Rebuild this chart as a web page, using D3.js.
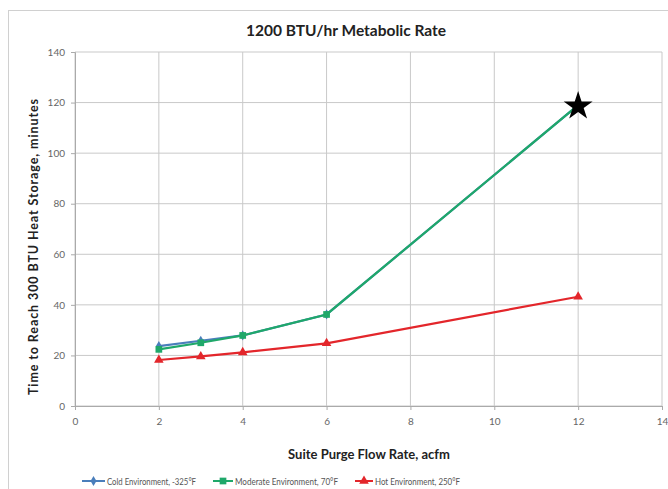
<!DOCTYPE html>
<html><head><meta charset="utf-8">
<script src="https://cdn.jsdelivr.net/npm/d3@7"></script>
<style>body{margin:0;background:#fff;} svg{display:block;font-family:Lato,"Open Sans",sans-serif;}</style>
</head><body>
<svg id="c" width="668" height="489"></svg>
<script>
const flowRates = [2, 3, 4, 6, 12];
const coldValues = [23.7, 25.8, 27.9, 36.2, 119];
const moderateValues = [22.4, 25.0, 27.9, 36.2, 119];
const hotValues = [18.2, 19.6, 21.2, 24.8, 43.2];
const xTicks = [0, 2, 4, 6, 8, 10, 12, 14];
const yTicks = [0, 20, 40, 60, 80, 100, 120, 140];
const starPoint = [12, 119];
const series = [
  {name: "Cold Environment, -325°F", values: coldValues, color: "#4a7ebb", sym: "diamond"},
  {name: "Moderate Environment, 70°F", values: moderateValues, color: "#1fa86a", sym: "square"},
  {name: "Hot Environment, 250°F", values: hotValues, color: "#e3262b", sym: "triangle"}
];

const svg = d3.select("#c");
svg.append("rect").attr("x", 8.5).attr("y", 10.5).attr("width", 680).attr("height", 490)
  .attr("fill", "#fff").attr("stroke", "#d0d0d0");

const x = d3.scaleLinear().domain([0, 14]).range([75, 662]);
const y = d3.scaleLinear().domain([0, 140]).range([406, 52]);

svg.append("g").selectAll("line").data(yTicks).join("line")
  .attr("x1", x(0)).attr("x2", x(14)).attr("y1", d => y(d)).attr("y2", d => y(d))
  .attr("stroke", "#c9c9c9").attr("stroke-width", 1);
svg.append("g").selectAll("line").data(xTicks).join("line")
  .attr("x1", d => x(d)).attr("x2", d => x(d)).attr("y1", y(0)).attr("y2", y(140))
  .attr("stroke", "#c9c9c9").attr("stroke-width", 1);

const yAxis = d3.axisLeft(y).tickValues(yTicks).tickSize(4).tickPadding(6);
const gy = svg.append("g").attr("transform", `translate(${x(0)},0)`).call(yAxis);
const xAxis = d3.axisBottom(x).tickValues(xTicks).tickSize(4).tickPadding(8);
const gx = svg.append("g").attr("transform", `translate(0,${y(0)})`).call(xAxis);
[gx, gy].forEach(g => {
  g.select(".domain").attr("stroke", "#aaa");
  g.selectAll(".tick line").attr("stroke", "#aaa");
  g.selectAll(".tick text").attr("fill", "#666").style("font-size", "10px").style("font-family", "Lato, sans-serif");
});

const line = d3.line().x((d, i) => x(flowRates[i])).y(d => y(d));
const symMap = {diamond: d3.symbolDiamond, square: d3.symbolSquare, triangle: d3.symbolTriangle};
const symSize = {diamond: 30, square: 45, triangle: 40};

series.forEach(s => {
  svg.append("path").datum(s.values).attr("d", line)
    .attr("fill", "none").attr("stroke", s.color).attr("stroke-width", 2.2);
});
series.forEach(s => {
  svg.append("g").selectAll("path").data(s.values).join("path")
    .attr("transform", (d, i) => `translate(${x(flowRates[i])},${y(d)})`)
    .attr("d", d3.symbol().type(symMap[s.sym]).size(symSize[s.sym]))
    .attr("fill", s.color);
});

svg.append("path")
  .attr("transform", `translate(${x(starPoint[0])},${y(starPoint[1]) + 1})`)
  .attr("d", d3.symbol().type(d3.symbolStar).size(260))
  .attr("fill", "#000");

svg.append("text").attr("x", 346).attr("y", 36).attr("text-anchor", "middle")
  .style("font-size", "15.5px").style("font-weight", "bold").attr("fill", "#222")
  .text("1200 BTU/hr Metabolic Rate");
svg.append("text").attr("x", 369).attr("y", 459).attr("text-anchor", "middle")
  .style("font-size", "13px").style("font-weight", "bold").attr("fill", "#222")
  .text("Suite Purge Flow Rate, acfm");
svg.append("text").attr("transform", `translate(38,247) rotate(-90)`).attr("text-anchor", "middle")
  .style("font-size", "12.5px").style("font-weight", "bold").attr("fill", "#222")
  .attr("textLength", 296).attr("lengthAdjust", "spacing")
  .text("Time to Reach 300 BTU Heat Storage, minutes");

const legLine = [[82, 105], [213, 233], [355, 373]];
const legText = [[107, 89], [235, 103], [375, 85]];
series.forEach((s, i) => {
  const g = svg.append("g").attr("transform", `translate(0,481)`);
  const [a, b] = legLine[i];
  g.append("line").attr("x1", a).attr("x2", b).attr("stroke", s.color).attr("stroke-width", 2);
  g.append("path").attr("transform", `translate(${(a + b) / 2},0)`)
    .attr("d", d3.symbol().type(symMap[s.sym]).size(symSize[s.sym])).attr("fill", s.color);
  g.append("text").attr("x", legText[i][0]).attr("y", 3.5).style("font-size", "9.5px").attr("fill", "#555")
    .attr("textLength", legText[i][1]).attr("lengthAdjust", "spacingAndGlyphs").text(s.name);
});
</script>
</body></html>
